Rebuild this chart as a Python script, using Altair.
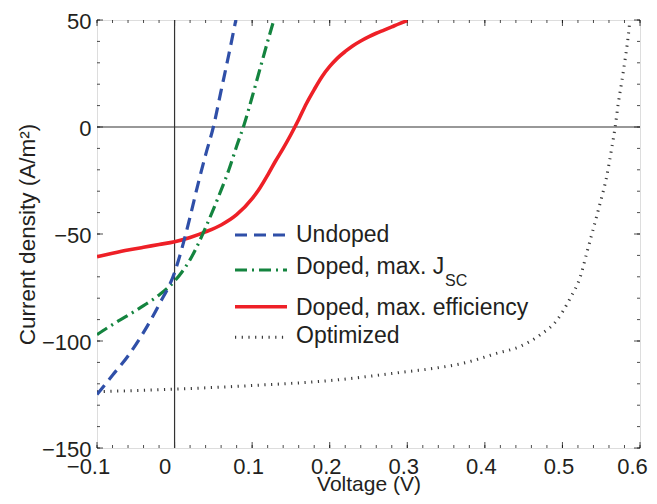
import altair as alt
import pandas as pd

# ---- data ----
undoped_v = [-0.1, -0.08, -0.06, -0.04, -0.02, 0.0, 0.01, 0.02, 0.03, 0.04, 0.05, 0.06, 0.07, 0.079]
undoped_j = [-125, -116, -107, -96, -83, -68, -56, -42, -27, -13, 0, 17, 34, 50]

jsc_v = [-0.1, -0.08, -0.06, -0.04, -0.02, 0.0, 0.01, 0.02, 0.03, 0.04, 0.05, 0.06, 0.07, 0.08,
         0.09, 0.1, 0.11, 0.12, 0.128]
jsc_j = [-97, -92.3, -88, -83.5, -78.5, -72, -67.5, -62, -55, -47, -38.5, -29.5, -20, -9,
         1.5, 14, 27, 40, 50]

eff_v = [-0.1, -0.08, -0.06, -0.04, -0.02, 0.0, 0.02, 0.04, 0.06, 0.08, 0.1, 0.11, 0.12, 0.13,
         0.14, 0.15, 0.16, 0.17, 0.18, 0.19, 0.2, 0.21, 0.22, 0.23, 0.24, 0.25, 0.26, 0.27, 0.28,
         0.29, 0.3]
eff_j = [-60.6, -59, -57.5, -56.2, -54.9, -53.6, -51.6, -49, -45.8, -41, -33.5, -28.5, -22.5, -16,
         -10, -3.5, 3.5, 11, 17.5, 23.5, 28.3, 32.2, 35.3, 38, 40.2, 42.1, 43.8, 45.3, 46.8,
         48.3, 49.7]

opt_v = [-0.1, 0.0, 0.1, 0.2, 0.3, 0.334, 0.372, 0.415, 0.445, 0.471, 0.493, 0.51, 0.523, 0.532,
         0.54, 0.548, 0.557, 0.5635, 0.568, 0.572, 0.5765, 0.581, 0.585, 0.587]
opt_j = [-123.7, -122.5, -120.8, -118.5, -114.3, -112.8, -110.4, -105.8, -102.6, -97.2, -90.2, -80,
         -70, -58, -47.3, -36.4, -23.2, -10, 0.1, 11, 21.2, 32.1, 43, 50]

x_major = [-0.1, 0.0, 0.1, 0.2, 0.3, 0.4, 0.5, 0.6]
x_minor = [round(-0.1 + 0.02 * i, 2) for i in range(36)]
y_major = [-150, -100, -50, 0, 50]
y_minor = list(range(-150, 51, 10))

FONT = "Liberation Sans"
TXT = "#231f20"
W, H = 543, 428
XDOM = [-0.1, 0.6]
YDOM = [-150, 50]


def xs():
    return alt.Scale(domain=XDOM, nice=False, zero=False)


def ys():
    return alt.Scale(domain=YDOM, nice=False, zero=False)


def series(v, j):
    return pd.DataFrame({"V": v, "J": j})


def line_layer(df, color, width, dash=None):
    kw = dict(color=color, strokeWidth=width, interpolate="monotone", clip=True)
    if dash is not None:
        kw["strokeDash"] = dash
    return alt.Chart(df).mark_line(**kw).encode(
        x=alt.X("V:Q", scale=xs(), axis=None),
        y=alt.Y("J:Q", scale=ys(), axis=None),
    )


anchor = pd.DataFrame({"V": [0.0], "J": [0.0]})

x_label_offset = {
    "condition": [
        {"test": "datum.value < -0.05", "value": -9},
        {"test": "abs(datum.value) < 0.01", "value": -10},
        {"test": "datum.value > 0.55", "value": -8},
    ],
    "value": -4,
}

# main axes (labels + titles; ticks drawn inward below)
main_axes = alt.Chart(anchor).mark_point(opacity=0).encode(
    x=alt.X("V:Q", scale=xs(), title="Voltage (V)",
            axis=alt.Axis(orient="bottom", values=x_major,
                          labelExpr="datum.value == 0 ? '0' : format(datum.value, '.1f')",
                          ticks=False, domain=False, grid=False, labelFlush=False,
                          labelOverlap=False, labelFont=FONT, labelFontSize=22, labelColor=TXT,
                          labelPadding=8, labelOffset=x_label_offset, titleFont=FONT,
                          titleFontSize=21, titleFontWeight="normal", titleColor=TXT,
                          titlePadding=-4)),
    y=alt.Y("J:Q", scale=ys(), title="Current density (A/m²)",
            axis=alt.Axis(orient="left", values=y_major, format="d", ticks=False, domain=False,
                          grid=False, labelFont=FONT, labelFontSize=22, labelColor=TXT,
                          labelPadding=6, labelOffset=1, titleFont=FONT, titleFontSize=22.5,
                          titleFontWeight="normal", titleColor=TXT, titlePadding=2)),
)


def xticks(vals, size, top):
    df = pd.DataFrame({"V": vals})
    return alt.Chart(df).mark_tick(orient="vertical", size=size, thickness=1, color="black").encode(
        x=alt.X("V:Q", scale=xs(), axis=None),
        y=alt.value(size / 2 if top else H - size / 2),
    )


def yticks(vals, size, right):
    df = pd.DataFrame({"J": vals})
    return alt.Chart(df).mark_tick(orient="horizontal", size=size, thickness=1, color="black").encode(
        y=alt.Y("J:Q", scale=ys(), axis=None),
        x=alt.value(W - size / 2 if right else size / 2),
    )


ticks = [
    xticks(x_minor, 3, False), xticks(x_major, 6, False),
    xticks(x_minor, 3, True), xticks(x_major, 6, True),
    yticks(y_minor, 3, False), yticks(y_major, 6, False),
    yticks(y_minor, 3, True), yticks(y_major, 6, True),
]

zero_v = alt.Chart(anchor).mark_rule(color="#333333", strokeWidth=1.2).encode(
    x=alt.X("V:Q", scale=xs(), axis=None))
zero_h = alt.Chart(anchor).mark_rule(color="#333333", strokeWidth=1.2).encode(
    y=alt.Y("J:Q", scale=ys(), axis=None))

BLUE, GREEN, RED, DOT = "#2f4fa8", "#14843f", "#ee2027", "#3a3a3a"

lines = [
    line_layer(series(opt_v, opt_j), DOT, 3, [1.2, 5.5]),
    line_layer(series(eff_v, eff_j), RED, 3.6),
    line_layer(series(jsc_v, jsc_j), GREEN, 3.2, [12, 5, 2, 5]),
    line_layer(series(undoped_v, undoped_j), BLUE, 3.2, [12, 7]),
]

# ---- legend (drawn manually to allow the J_SC subscript) ----
LX0, LX1, TX = 138, 190, 199
legend_items = [
    ("Undoped", BLUE, 3.2, [12, 7], 215, 222.3),
    ("Doped, max. J", GREEN, 3.2, [12, 5, 2, 5], 250, 254.3),
    ("Doped, max. efficiency", RED, 3.6, None, 286.7, 295),
    ("Optimized", DOT, 3, [1.2, 5.5], 317.3, 323.3),
]
legend = []
for label, col, wd, dash, ly, ty in legend_items:
    kw = dict(color=col, strokeWidth=wd)
    if dash is not None:
        kw["strokeDash"] = dash
    legend.append(alt.Chart(anchor).mark_rule(**kw).encode(
        x=alt.value(LX0), x2=alt.value(LX1), y=alt.value(ly)))
    legend.append(alt.Chart(anchor).mark_text(
        text=label, font=FONT, fontSize=23, color=TXT, align="left", baseline="alphabetic"
    ).encode(x=alt.value(TX), y=alt.value(ty)))
legend.append(alt.Chart(anchor).mark_text(
    text="SC", font=FONT, fontSize=16, color=TXT, align="left", baseline="alphabetic"
).encode(x=alt.value(348), y=alt.value(265.7)))

chart = alt.layer(main_axes, *ticks, zero_v, zero_h, *lines, *legend).resolve_axis(
    x="independent", y="independent"
).properties(
    width=W, height=H,
    autosize=alt.AutoSizeParams(type="none"),
    padding={"left": 89, "top": 12, "right": 9, "bottom": 48},
).configure_view(stroke="black", strokeWidth=1.2).configure(background="white")

chart.save("out.html", embed_options={"renderer": "svg", "actions": False})
